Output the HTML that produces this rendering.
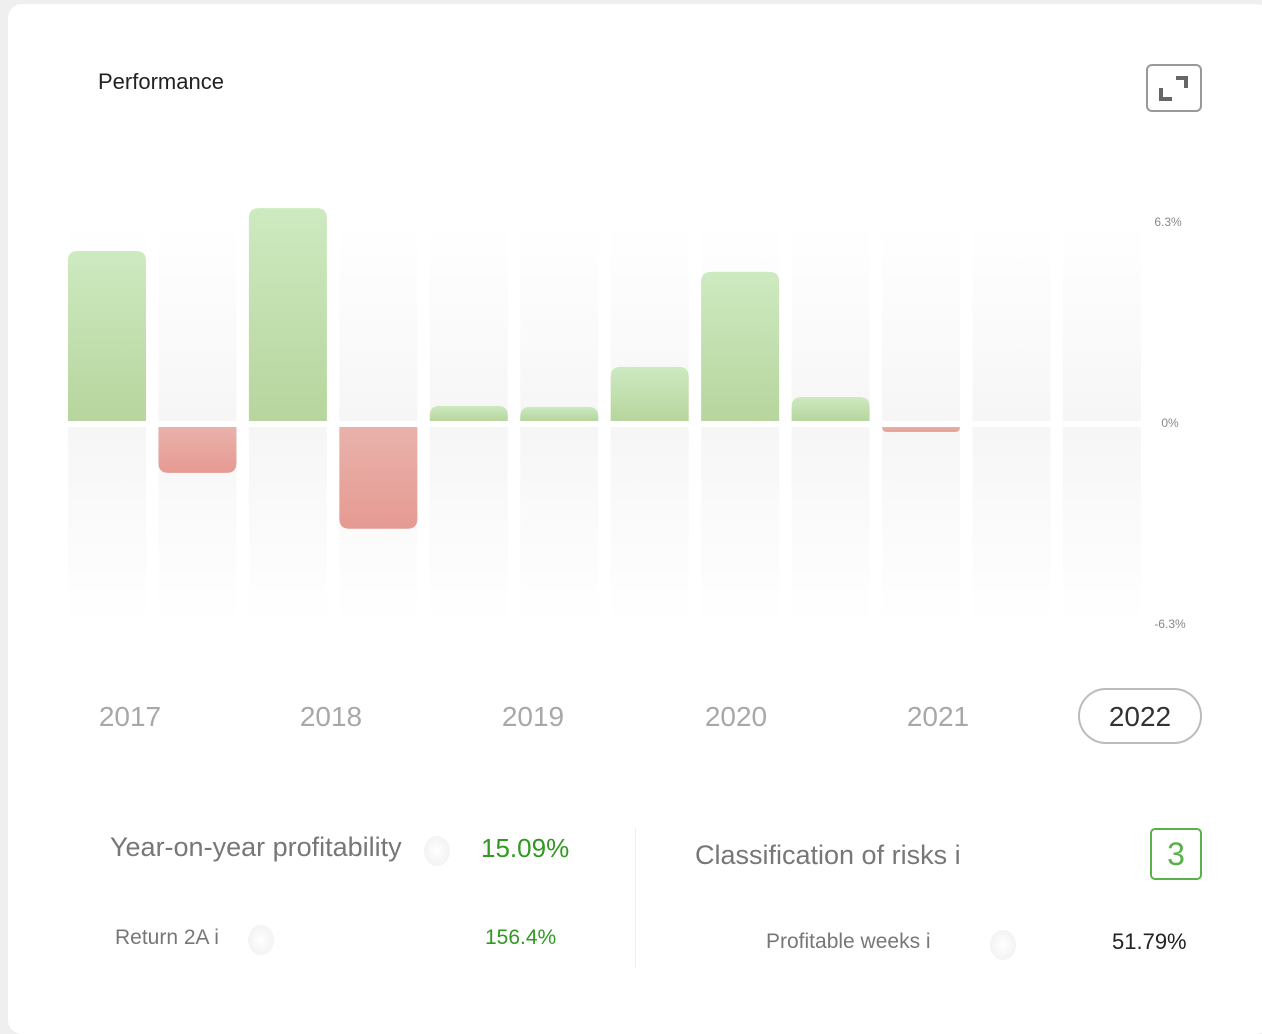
<!DOCTYPE html>
<html><head><meta charset="utf-8"><style>
body{margin:0;width:1262px;height:1024px;background:#efefef;font-family:"Liberation Sans",sans-serif;overflow:hidden;position:relative}
.card{position:absolute;left:8px;top:4px;width:1262px;height:1030px;background:#fff;border-radius:14px}
.abs{position:absolute}
.year{position:absolute;top:701px;font-size:28px;color:#a8a8a8;width:120px;text-align:center;margin-left:-60px}
.info{position:absolute;width:26px;height:30px;border-radius:50%;background:radial-gradient(#fff,#eee)}
</style></head><body>
<div class="card"></div>
<div class="abs" style="left:98px;top:69px;font-size:22px;color:#222">Performance</div>
<div class="abs" style="left:1146px;top:64px;width:52px;height:44px;border:2px solid #999;border-radius:6px">
<svg width="52" height="44"><path d="M13 22 V33 H24 M28 12 H38 V22" stroke="#666" stroke-width="4" fill="none"/></svg></div>
<svg class="abs" style="left:0;top:0" width="1262" height="680" id="chart">
<defs>
<linearGradient id="bgU" x1="0" y1="0" x2="0" y2="1"><stop offset="0" stop-color="#fff"/><stop offset="1" stop-color="#f6f6f6"/></linearGradient>
<linearGradient id="bgD" x1="0" y1="0" x2="0" y2="1"><stop offset="0" stop-color="#f6f6f6"/><stop offset="1" stop-color="#fff"/></linearGradient>
<linearGradient id="gG" x1="0" y1="0" x2="0" y2="1"><stop offset="0" stop-color="#cdeac1"/><stop offset="1" stop-color="#b7d59d"/></linearGradient>
<linearGradient id="gR" x1="0" y1="0" x2="0" y2="1"><stop offset="0" stop-color="#e9b2ab"/><stop offset="1" stop-color="#e59a92"/></linearGradient>
</defs>
<text x="1168" y="226" font-size="12" fill="#888" text-anchor="middle">6.3%</text>
<text x="1170" y="427" font-size="12" fill="#888" text-anchor="middle">0%</text>
<text x="1170" y="628" font-size="12" fill="#888" text-anchor="middle">-6.3%</text>
</svg>
<div class="year" style="left:130px">2017</div>
<div class="year" style="left:331px">2018</div>
<div class="year" style="left:533px">2019</div>
<div class="year" style="left:736px">2020</div>
<div class="year" style="left:938px">2021</div>
<div class="abs" style="left:1078px;top:688px;width:120px;height:52px;border:2px solid #bbb;border-radius:28px;font-size:28px;color:#333;text-align:center;line-height:54px">2022</div>

<div class="abs" style="left:110px;top:832px;font-size:27px;color:#777">Year-on-year profitability</div>
<div class="info" style="left:424px;top:836px"></div>
<div class="abs" style="left:481px;top:833px;font-size:26px;color:#2e9a1e">15.09%</div>
<div class="abs" style="left:115px;top:926px;font-size:21px;color:#777">Return 2A i</div>
<div class="info" style="left:248px;top:925px"></div>
<div class="abs" style="left:485px;top:926px;font-size:21px;color:#2e9a1e">156.4%</div>
<div class="abs" style="left:635px;top:828px;width:1px;height:140px;background:#eee"></div>
<div class="abs" style="left:695px;top:840px;font-size:27px;color:#777">Classification of risks i</div>
<div class="abs" style="left:1150px;top:828px;width:48px;height:48px;border:2px solid #5ab04a;border-radius:5px;color:#5ab04a;font-size:32px;text-align:center;line-height:48px">3</div>
<div class="abs" style="left:766px;top:930px;font-size:21px;color:#777">Profitable weeks i</div>
<div class="info" style="left:990px;top:930px"></div>
<div class="abs" style="left:1112px;top:929px;font-size:22px;color:#222">51.79%</div>
<script>
const months=["m1","m2","m3","m4","m5","m6","m7","m8","m9","m10","m11","m12"];
const values=[5.45,-1.54,6.8,-3.3,0.57,0.54,1.8,4.79,0.85,-0.25,0,0];
const yMax=6.3;
const svg=document.getElementById('chart');
const NS='http://www.w3.org/2000/svg';
const zero=424, half=200, x0=68, pitch=90.45, bw=78;
const y=v=>zero-v/yMax*half;
const xs=i=>x0+i*pitch;
function rr(x,y1,w,h,r,fill,top){
  const p=document.createElementNS(NS,'path');
  r=Math.min(r,h);
  let d;
  if(top) d=`M${x} ${y1+h}V${y1+r}Q${x} ${y1} ${x+r} ${y1}H${x+w-r}Q${x+w} ${y1} ${x+w} ${y1+r}V${y1+h}Z`;
  else d=`M${x} ${y1}V${y1+h-r}Q${x} ${y1+h} ${x+r} ${y1+h}H${x+w-r}Q${x+w} ${y1+h} ${x+w} ${y1+h-r}V${y1}Z`;
  p.setAttribute('d',d);p.setAttribute('fill',fill);svg.appendChild(p);return p;
}
months.forEach((m,i)=>{
  const b1=document.createElementNS(NS,'rect');
  b1.setAttribute('x',xs(i));b1.setAttribute('y',y(yMax));b1.setAttribute('width',bw);b1.setAttribute('height',zero-3-y(yMax));b1.setAttribute('fill','url(#bgU)');
  
  
  svg.appendChild(b1);
  const b2=document.createElementNS(NS,'rect');
  b2.setAttribute('x',xs(i));b2.setAttribute('y',zero+3);b2.setAttribute('width',bw);b2.setAttribute('height',y(-yMax)-zero-3);b2.setAttribute('fill','url(#bgD)');
  
  
  svg.appendChild(b2);
  const v=values[i];
  if(v>0){
    const p=rr(xs(i),y(v),bw,zero-3-y(v),10,'url(#gG)',true);
    
    
  } else if(v<0){
    const p=rr(xs(i),zero+3,bw,y(v)-zero-3,10,'url(#gR)',false);
    
    
  }
});
</script>
</body></html>
